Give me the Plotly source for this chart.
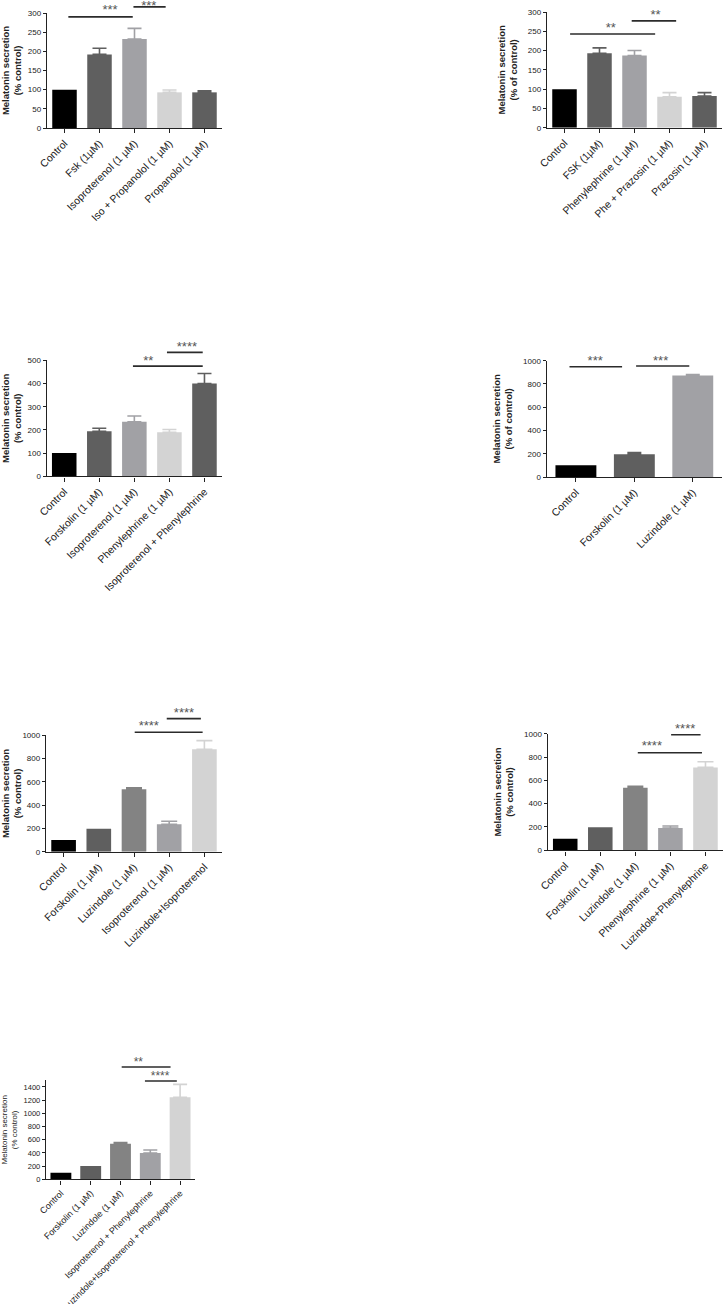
import plotly.graph_objects as go

W, H = 724, 1304
FONT = "Liberation Sans, Arial, sans-serif"

BLACK = "#000000"
DARK = "#5f5f5f"
MID = "#838383"
GREY = "#a1a1a5"
LIGHT = "#d3d3d3"

# ---------------- data ----------------
p1_categories = ["Control", "Fsk (1µM)", "Isoproterenol (1 µM)", "Iso + Propanolol (1 µM)", "Propanolol (1 µM)"]
p1_means = [100, 192, 232, 93, 93]
p1_sem = [0, 16, 28, 6, 4]
p1_colors = [BLACK, DARK, GREY, LIGHT, DARK]
p1_sig_x0 = [0.11, 1.97]
p1_sig_x1 = [1.95, 2.89]
p1_sig_y = [290, 316]
p1_sig_text = ["***", "***"]
p1_star_x = [1.30, 2.41]
p1_star_y = [313, 324]

p2_categories = ["Control", "FSK (1µM)", "Phenylephrine (1 µM)", "Phe + Prazosin (1 µM)", "Prazosin (1 µM)"]
p2_means = [100, 193, 187, 80, 82]
p2_sem = [0, 14, 13, 11, 9]
p2_colors = [BLACK, DARK, GREY, LIGHT, DARK]
p2_sig_x0 = [0.16, 1.92]
p2_sig_x1 = [2.59, 3.19]
p2_sig_y = [243, 277]
p2_sig_text = ["**", "**"]
p2_star_x = [1.32, 2.60]
p2_star_y = [264, 298]

p3_categories = ["Control", "Forskolin (1 µM)", "Isoproterenol (1 µM)", "Phenylephrine (1 µM)", "Isoproterenol + Phenylephrine"]
p3_means = [100, 194, 235, 190, 400]
p3_sem = [0, 13, 25, 12, 43]
p3_colors = [BLACK, DARK, GREY, LIGHT, DARK]
p3_sig_x0 = [1.96, 2.93]
p3_sig_x1 = [3.95, 3.95]
p3_sig_y = [475, 534]
p3_sig_text = ["**", "****"]
p3_star_x = [2.40, 3.50]
p3_star_y = [508, 567]

p4_categories = ["Control", "Forskolin (1 µM)", "Luzindole (1 µM)"]
p4_means = [100, 195, 872]
p4_sem = [0, 15, 8]
p4_colors = [BLACK, DARK, GREY]
p4_sig_x0 = [-0.11, 1.03]
p4_sig_x1 = [0.79, 1.94]
p4_sig_y = [948, 955]
p4_sig_text = ["***", "***"]
p4_star_x = [0.33, 1.45]
p4_star_y = [1014, 1018]

p5_categories = ["Control", "Forskolin (1 µM)", "Luzindole (1 µM)", "Isoproterenol (1 µM)", "Luzindole+Isoproterenol"]
p5_means = [100, 197, 536, 235, 880]
p5_sem = [0, 0, 14, 26, 74]
p5_colors = [BLACK, DARK, MID, GREY, LIGHT]
p5_sig_x0 = [2.02, 2.93]
p5_sig_x1 = [3.95, 3.90]
p5_sig_y = [1026, 1143]
p5_sig_text = ["****", "****"]
p5_star_x = [2.42, 3.42]
p5_star_y = [1095, 1212]

p6_categories = ["Control", "Forskolin (1 µM)", "Luzindole (1 µM)", "Phenylephrine (1 µM)", "Luzindole+Phenylephrine"]
p6_means = [100, 197, 537, 191, 711]
p6_sem = [0, 0, 12, 18, 49]
p6_colors = [BLACK, DARK, MID, GREY, LIGHT]
p6_sig_x0 = [2.07, 3.02]
p6_sig_x1 = [3.90, 3.86]
p6_sig_y = [837, 991]
p6_sig_text = ["****", "****"]
p6_star_x = [2.47, 3.42]
p6_star_y = [909, 1060]

p7_categories = ["Control", "Forskolin (1 µM)", "Luzindole (1 µM)", "Isoproterenol + Phenylephrine", "Luzindole+Isoproterenol + Phenylephrine"]
p7_means = [100, 200, 541, 399, 1243]
p7_sem = [0, 0, 15, 46, 197]
p7_colors = [BLACK, DARK, MID, GREY, LIGHT]
p7_sig_x0 = [2.04, 2.82]
p7_sig_x1 = [3.68, 3.89]
p7_sig_y = [1703, 1491]
p7_sig_text = ["**", "****"]
p7_star_x = [2.60, 3.33]
p7_star_y = [1809, 1592]

# ---------------- layout of the panels (pixel boxes) ----------------
panels = [
    dict(cats=p1_categories, means=p1_means, sem=p1_sem, colors=p1_colors,
         sx0=p1_sig_x0, sx1=p1_sig_x1, sy=p1_sig_y, st=p1_sig_text, stx=p1_star_x, sty=p1_star_y,
         left=47, right=222, top=13, bottom=128, ymax=300, dtick=50, ext_top=0,
         title="Melatonin secretion<br>(% control)", bold=True, tick=8, xfont=10.5, cap=7, star=13),
    dict(cats=p2_categories, means=p2_means, sem=p2_sem, colors=p2_colors,
         sx0=p2_sig_x0, sx1=p2_sig_x1, sy=p2_sig_y, st=p2_sig_text, stx=p2_star_x, sty=p2_star_y,
         left=547, right=722, top=12, bottom=127.7, ymax=300, dtick=50, ext_top=0,
         title="Melatonin secretion<br>(% of control)", bold=True, tick=8, xfont=10.5, cap=7, star=13),
    dict(cats=p3_categories, means=p3_means, sem=p3_sem, colors=p3_colors,
         sx0=p3_sig_x0, sx1=p3_sig_x1, sy=p3_sig_y, st=p3_sig_text, stx=p3_star_x, sty=p3_star_y,
         left=46.7, right=222, top=360.3, bottom=476.3, ymax=500, dtick=100, ext_top=320,
         title="Melatonin secretion<br>(% control)", bold=True, tick=8, xfont=10.5, cap=7, star=13),
    dict(cats=p4_categories, means=p4_means, sem=p4_sem, colors=p4_colors,
         sx0=p4_sig_x0, sx1=p4_sig_x1, sy=p4_sig_y, st=p4_sig_text, stx=p4_star_x, sty=p4_star_y,
         left=546.7, right=722, top=360.7, bottom=477, ymax=1000, dtick=200, ext_top=320,
         title="Melatonin secretion<br>(% of control)", bold=True, tick=8, xfont=10.5, cap=7, star=13),
    dict(cats=p5_categories, means=p5_means, sem=p5_sem, colors=p5_colors,
         sx0=p5_sig_x0, sx1=p5_sig_x1, sy=p5_sig_y, st=p5_sig_text, stx=p5_star_x, sty=p5_star_y,
         left=46, right=222, top=735.3, bottom=851.7, ymax=1000, dtick=200, ext_top=690,
         title="Melatonin secretion<br>(% control)", bold=True, tick=8, xfont=10.5, cap=8, star=13),
    dict(cats=p6_categories, means=p6_means, sem=p6_sem, colors=p6_colors,
         sx0=p6_sig_x0, sx1=p6_sig_x1, sy=p6_sig_y, st=p6_sig_text, stx=p6_star_x, sty=p6_star_y,
         left=547.7, right=723, top=733.7, bottom=850.3, ymax=1000, dtick=200, ext_top=690,
         title="Melatonin secretion<br>(% control)", bold=True, tick=8, xfont=10.5, cap=8, star=13),
    dict(cats=p7_categories, means=p7_means, sem=p7_sem, colors=p7_colors,
         sx0=p7_sig_x0, sx1=p7_sig_x1, sy=p7_sig_y, st=p7_sig_text, stx=p7_star_x, sty=p7_star_y,
         left=46, right=195, top=1080.4, bottom=1179.3, ymax=1500, dtick=200, ext_top=1040,
         title="Melatonin secretion<br>(% control)", bold=False, tick=7.5, xfont=9, cap=7, star=12),
]

fig = go.Figure()
layout_axes = {}
n_p = len(panels)

for i, p in enumerate(panels):
    k = i + 1
    ka = k + n_p
    xa = "x" if k == 1 else f"x{k}"
    ya = "y" if k == 1 else f"y{k}"
    xb, yb = f"x{ka}", f"y{ka}"
    xkey = "xaxis" if k == 1 else f"xaxis{k}"
    ykey = "yaxis" if k == 1 else f"yaxis{k}"
    n = len(p["cats"])
    xdom = [p["left"] / W, p["right"] / W]
    ydom = [1 - p["bottom"] / H, 1 - p["top"] / H]
    ext_dom = [1 - p["bottom"] / H, 1 - p["ext_top"] / H]
    ext_max = p["ymax"] * (p["bottom"] - p["ext_top"]) / (p["bottom"] - p["top"])
    # asterisks sit high in their text box: lower the box by ~0.22 em
    px_per_unit = (p["bottom"] - p["top"]) / p["ymax"]
    star_shift = 0.22 * p["star"] / px_per_unit

    # bars, one trace per category so each error bar takes its bar's colour
    for c, m, e, col in zip(p["cats"], p["means"], p["sem"], p["colors"]):
        fig.add_trace(go.Bar(
            x=[c], y=[m], width=0.7, xaxis=xa, yaxis=ya,
            marker=dict(color=col, line=dict(width=0)),
            error_y=dict(type="data", symmetric=False, array=[e], arrayminus=[0],
                         color=col, thickness=1.6, width=p["cap"], visible=bool(e > 0)),
            showlegend=False, hoverinfo="skip",
        ))

    # significance bars
    for x0, x1, y, t, tx, ty in zip(p["sx0"], p["sx1"], p["sy"], p["st"], p["stx"], p["sty"]):
        fig.add_trace(go.Scatter(
            x=[x0, x1], y=[y, y], mode="lines", xaxis=xb, yaxis=yb,
            line=dict(color="#2b2b2b", width=1.6), cliponaxis=False,
            showlegend=False, hoverinfo="skip",
        ))
        fig.add_trace(go.Scatter(
            x=[tx], y=[ty - star_shift], mode="text", text=[t], textposition="middle center",
            textfont=dict(family=FONT, size=p["star"], color="#555555"),
            xaxis=xb, yaxis=yb, cliponaxis=False, showlegend=False, hoverinfo="skip",
        ))

    title_text = f"<b>{p['title']}</b>" if p["bold"] else p["title"]
    layout_axes[xkey] = dict(
        domain=xdom, anchor=ya, type="category", categoryorder="array",
        categoryarray=p["cats"], range=[-0.5, n - 0.5], automargin=False,
        showline=True, linecolor="#222222", linewidth=1.4, mirror=False,
        ticks="outside", ticklen=4, tickwidth=1.1, tickcolor="#222222",
        tickangle=-45, tickfont=dict(family=FONT, size=p["xfont"], color="#222222"),
        showgrid=False, zeroline=False, fixedrange=True,
    )
    layout_axes[ykey] = dict(
        domain=ydom, anchor=xa, range=[0, p["ymax"]], dtick=p["dtick"], tick0=0,
        automargin=False,
        showline=True, linecolor="#222222", linewidth=1.4,
        ticks="outside", ticklen=3, tickwidth=1.1, tickcolor="#222222",
        tickfont=dict(family=FONT, size=p["tick"], color="#222222"),
        showgrid=False, zeroline=False, fixedrange=True,
        title=dict(text=title_text, standoff=8,
                   font=dict(family=FONT, size=9.5 if p["bold"] else 8, color="#222222")),
    )
    layout_axes[f"xaxis{ka}"] = dict(
        domain=xdom, anchor=yb, range=[-0.5, n - 0.5], visible=False,
        fixedrange=True, automargin=False,
    )
    layout_axes[f"yaxis{ka}"] = dict(
        domain=ext_dom, anchor=xb, range=[0, ext_max], visible=False,
        fixedrange=True, automargin=False,
    )

fig.update_layout(
    width=W, height=H, margin=dict(l=0, r=0, t=0, b=0, pad=0, autoexpand=False),
    paper_bgcolor="white", plot_bgcolor="rgba(0,0,0,0)",
    barmode="overlay", showlegend=False,
    font=dict(family=FONT, color="#222222"),
    **layout_axes,
)

fig.write_html(
    "out.html",
    config={"displayModeBar": False},
    post_script="document.body.style.margin='0';document.body.style.overflow='hidden';",
)
